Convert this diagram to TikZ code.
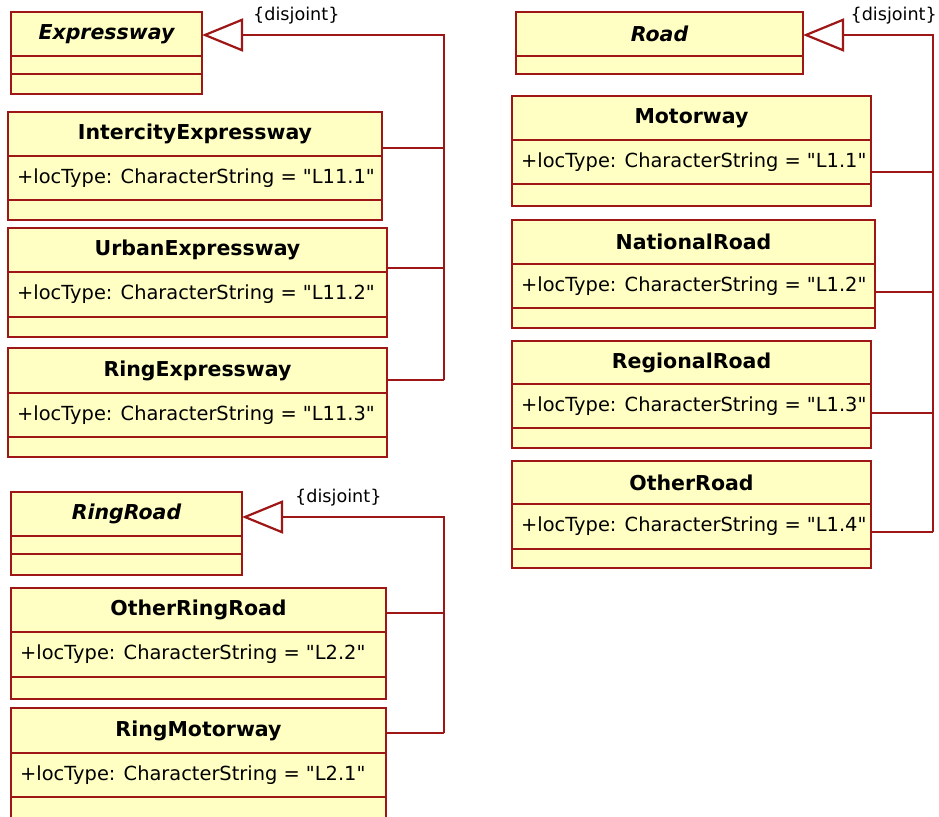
\documentclass[tikz,border=0pt]{standalone}
\usepackage{fontspec}
\setmainfont{DejaVu Sans}[Ligatures=TeXOff]
\usetikzlibrary{arrows.meta}
\definecolor{umlred}{RGB}{158,22,22}
\definecolor{umlfill}{RGB}{255,255,196}
\newcommand{\dq}{\symbol{34}}
\tikzset{
  x=1pt, y=-1pt,
  clsbox/.style={draw=umlred, fill=umlfill, line width=2.2pt, inner sep=0pt, outer sep=0pt},
  clsline/.style={draw=umlred, line width=2.2pt},
  titletext/.style={font=\fontsize{20.5}{24}\selectfont\bfseries, inner sep=0pt},
  abstracttext/.style={font=\fontsize{20.5}{24}\selectfont\bfseries\itshape, inner sep=0pt},
  attrtext/.style={font=\fontsize{19.4}{23}\selectfont, inner sep=0pt, anchor=west},
  constr/.style={font=\fontsize{17.6}{21}\selectfont, inner sep=0pt},
  conn/.style={draw=umlred, line width=2.2pt},
  gen/.style={draw=umlred, line width=2.2pt, -{Triangle[open, length=41pt, width=33pt, line join=miter]}},
}
% concrete class: id, x1, y1, x2, y2, divider1, divider2, title, attribute
\newcommand{\umlclass}[9]{%
  \node[clsbox, minimum width={(#4-#2)*1pt}, minimum height={(#5-#3)*1pt}, anchor=north west] (#1) at (#2,#3) {};
  \draw[clsline] (#1.west |- 0,#6) -- (#1.east |- 0,#6);
  \draw[clsline] (#1.west |- 0,#7) -- (#1.east |- 0,#7);
  \node[titletext] (#1-name) at ({(#2+#4)/2},{(#3+#6)/2}) {#8};
  \node[attrtext] (#1-attr) at (#2+9,{(#6+#7)/2}) {#9};
}
% abstract class: id, x1, y1, x2, y2, divider list, first divider, title
\newcommand{\umlabstract}[8]{%
  \node[clsbox, minimum width={(#4-#2)*1pt}, minimum height={(#5-#3)*1pt}, anchor=north west] (#1) at (#2,#3) {};
  \foreach \dv in {#6} {\draw[clsline] (#1.west |- 0,\dv) -- (#1.east |- 0,\dv);}
  \node[abstracttext] (#1-name) at ({(#2+#4)/2},{(#3+#7)/2}) {#8};
}
\begin{document}
\begin{tikzpicture}
\useasboundingbox (0,0) rectangle (939,816);
\clip (0,0) rectangle (939,816);
\fill[white] (0,0) rectangle (939,816);

% ---------- Expressway group ----------
\umlabstract{expressway}{11}{12}{202}{94}{56,74}{56}{Expressway}
\umlclass{ie}{8}{112}{382}{220}{156}{200}{IntercityExpressway}{+locType: CharacterString = \dq L11.1\dq}
\umlclass{ue}{8}{228}{387}{337}{272}{317}{UrbanExpressway}{+locType: CharacterString = \dq L11.2\dq}
\umlclass{re}{8}{348}{387}{457}{393}{437}{RingExpressway}{+locType: CharacterString = \dq L11.3\dq}

\coordinate (tL) at (444,35);
\coordinate (jL1) at (444,148);
\coordinate (jL2) at (444,268);
\coordinate (jL3) at (444,380);
\draw[conn] (ie.east |- jL1) -- (jL1);
\draw[conn] (ue.east |- jL2) -- (jL2);
\draw[conn] (re.east |- jL3) -- (jL3);
\draw[gen] (jL3) -- (tL) -- (expressway.east |- tL);
\node[constr, anchor=west] (dL) at (253,16) {\{disjoint\}};

% ---------- RingRoad group ----------
\umlabstract{ringroad}{11}{492}{242}{575}{536,554}{536}{RingRoad}
\umlclass{orr}{11}{588}{386}{699}{632}{677}{OtherRingRoad}{+locType: CharacterString = \dq L2.2\dq}
\umlclass{rm}{11}{708}{386}{830}{753}{797}{RingMotorway}{+locType: CharacterString = \dq L2.1\dq}

\coordinate (tR2) at (444,517);
\coordinate (jR1) at (444,613);
\coordinate (jR2) at (444,733);
\draw[conn] (orr.east |- jR1) -- (jR1);
\draw[conn] (rm.east |- jR2) -- (jR2);
\draw[gen] (jR2) -- (tR2) -- (ringroad.east |- tR2);
\node[constr, anchor=west] (dR2) at (295,498) {\{disjoint\}};

% ---------- Road group ----------
\umlabstract{road}{516}{12}{803}{74}{56}{56}{Road}
\umlclass{mw}{512}{96}{871}{206}{140}{184}{Motorway}{+locType: CharacterString = \dq L1.1\dq}
\umlclass{nr}{512}{220}{875}{328}{264}{308}{NationalRoad}{+locType: CharacterString = \dq L1.2\dq}
\umlclass{rr}{512}{341}{871}{448}{384}{428}{RegionalRoad}{+locType: CharacterString = \dq L1.3\dq}
\umlclass{or}{512}{461}{871}{568}{504}{549}{OtherRoad}{+locType: CharacterString = \dq L1.4\dq}

\coordinate (tRd) at (933,35);
\coordinate (jD1) at (933,172);
\coordinate (jD2) at (933,292);
\coordinate (jD3) at (933,413);
\coordinate (jD4) at (933,532);
\draw[conn] (mw.east |- jD1) -- (jD1);
\draw[conn] (nr.east |- jD2) -- (jD2);
\draw[conn] (rr.east |- jD3) -- (jD3);
\draw[conn] (or.east |- jD4) -- (jD4);
\draw[gen] (jD4) -- (tRd) -- (road.east |- tRd);
\node[constr, anchor=east] (dRd) at (937,16) {\{disjoint\}};
\end{tikzpicture}
\end{document}
